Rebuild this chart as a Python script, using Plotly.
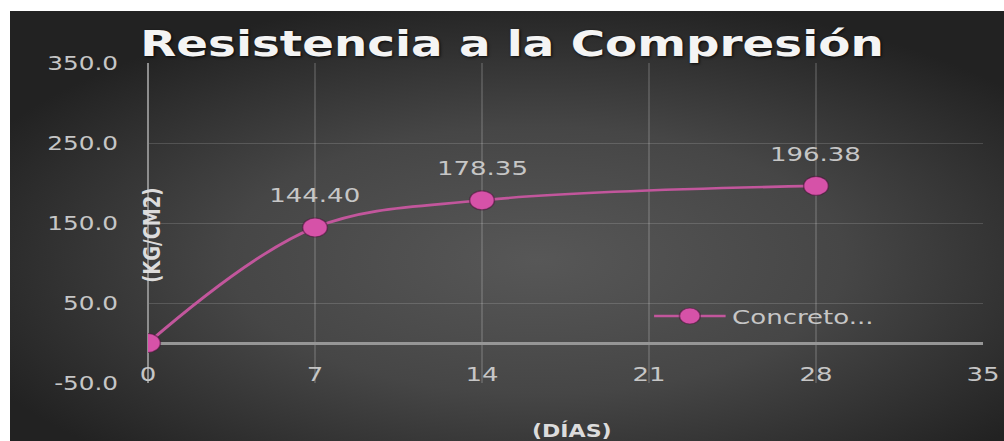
import base64
import plotly.graph_objects as go

# Ensayos de compresión: edad (días) y resistencia (kg/cm2)
dias = [0, 7, 14, 28]
resistencia = [0.0, 144.40, 178.35, 196.38]
serie = "Concreto..."

titulo = "Resistencia a la Compresión"
titulo_y = "(KG/CM2)"
titulo_x = "(DÍAS)"

ticks_x = [0, 7, 14, 21, 28, 35]
ticks_y = [-50, 50, 150, 250, 350]
etiquetas_y = [f"{v:.1f}" for v in ticks_y]

# Figure is laid out narrower and widened horizontally in the page
ANCHO, ALTO = 772, 441
ESCALA = 1004 / ANCHO

FUENTE = "DejaVu Sans"
GRIS = "#c6c6c6"
ROSA = "#d652a8"
LINEA = "#c2569c"

# Dark radial background for the chart area
svg_fondo = """<svg xmlns='http://www.w3.org/2000/svg' width='1000' height='430' preserveAspectRatio='none'>
<defs><radialGradient id='g' cx='0.53' cy='0.58' r='0.62'>
<stop offset='0' stop-color='#575757'/>
<stop offset='0.5' stop-color='#464646'/>
<stop offset='1' stop-color='#222222'/>
</radialGradient></defs>
<rect width='1000' height='430' fill='url(#g)'/></svg>"""
fondo_uri = "data:image/svg+xml;base64," + base64.b64encode(svg_fondo.encode()).decode()

fig = go.Figure()
fig.add_trace(go.Scatter(
    x=dias, y=resistencia, name=serie,
    mode="lines+markers",
    line=dict(color=LINEA, width=2.6, shape="spline", smoothing=1),
    marker=dict(color=ROSA, size=19, line=dict(color="rgba(70,20,55,0.55)", width=1.2)),
    showlegend=True,
))

# Value labels above the measured points
for d, r in zip(dias, resistencia):
    if r > 0:
        fig.add_annotation(x=d, y=r, text=f"{r:.2f}", showarrow=False,
                           yshift=32, font=dict(family=FUENTE, size=20, color=GRIS))

fig.add_annotation(text=titulo_y, xref="paper", yref="paper", x=152 / 1004, y=1 - 235 / 441,
                   textangle=-90, showarrow=False, xanchor="center", yanchor="middle",
                   font=dict(family=FUENTE, size=18, color="#dcdcdc", weight="bold"))
fig.add_annotation(text=titulo_x, xref="paper", yref="paper", x=572 / 1004, y=1 - 430 / 441,
                   showarrow=False, xanchor="center", yanchor="middle",
                   font=dict(family=FUENTE, size=17, color="#dcdcdc", weight="bold"))

grid = "rgba(255,255,255,0.15)"
fig.update_layout(
    width=ANCHO, height=ALTO,
    margin=dict(l=0, r=0, t=0, b=0, pad=0, autoexpand=False),
    paper_bgcolor="white",
    plot_bgcolor="rgba(0,0,0,0)",
    title=dict(text=titulo, x=512 / 1004, y=1 - 43 / 441, xanchor="center", yanchor="middle",
               xref="paper", yref="paper", automargin=False,
               font=dict(family=FUENTE, size=36, color="#f4f4f4", weight="bold",
                         shadow="1px 2px 3px rgba(0,0,0,0.8)")),
    xaxis=dict(domain=[148 / 1004, 983 / 1004], range=[0, 35], tickvals=ticks_x,
               automargin=False,
               showgrid=True, gridcolor=grid, gridwidth=1,
               zeroline=True, zerolinecolor="#8e8e8e", zerolinewidth=2,
               showline=False, ticks="", ticklabelstandoff=-23,
               tickfont=dict(family=FUENTE, size=20, color=GRIS)),
    yaxis=dict(domain=[1 - 383 / 441, 1 - 63 / 441], range=[-50, 350],
               tickvals=ticks_y, ticktext=etiquetas_y,
               automargin=False,
               showgrid=True, gridcolor=grid, gridwidth=1,
               zeroline=True, zerolinecolor="#969696", zerolinewidth=2.5,
               showline=False, ticks="", ticklabelstandoff=22,
               tickfont=dict(family=FUENTE, size=19, color=GRIS)),
    legend=dict(x=0.645, y=1 - 316 / 441, xanchor="left", yanchor="middle",
                bgcolor="rgba(0,0,0,0)", itemwidth=55,
                font=dict(family=FUENTE, size=20, color=GRIS)),
    images=[dict(source=fondo_uri, xref="paper", yref="paper",
                 x=10 / 1004, y=1 - 11 / 441, sizex=1 - 10 / 1004, sizey=1 - 11 / 441,
                 xanchor="left", yanchor="top", sizing="stretch", layer="below")],
)

ajuste = """
document.body.style.margin = '0';
document.body.style.overflow = 'hidden';
var gd = document.getElementById('{plot_id}');
gd.style.transformOrigin = '0 0';
gd.style.transform = 'scaleX(ESC)';
""".replace("ESC", f"{ESCALA:.5f}")

fig.write_html("out.html", post_script=ajuste)
